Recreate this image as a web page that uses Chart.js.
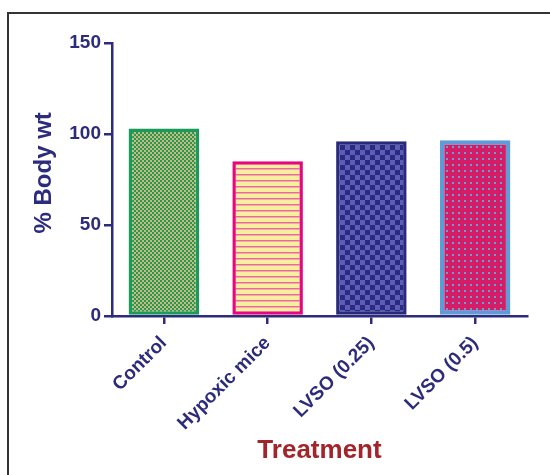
<!DOCTYPE html>
<html>
<head>
<meta charset="utf-8">
<script src="https://cdn.jsdelivr.net/npm/chart.js@4.4.0/dist/chart.umd.min.js"></script>
<style>
  body { margin: 0; background: #fff; }
  #frame { position: absolute; left: 7px; top: 12px; width: 560px; height: 480px;
           border-left: 2px solid #333; border-top: 2px solid #333; }
  #wrap { position: absolute; left: 0; top: 0; width: 550px; height: 475px; }
</style>
</head>
<body>
<div id="frame"></div>
<div id="wrap"><canvas id="myBarChart" width="550" height="475"></canvas></div>
<script>
// chart values
var categories = ['Control', 'Hypoxic mice', 'LVSO (0.25)', 'LVSO (0.5)'];
var bodyWt = [103, 85, 96, 96.5];
var yTicks = [0, 50, 100, 150];

var navy = '#2c2b7c';

// small tiles used as bar fills
function tile(w, h, draw) {
    var c = document.createElement('canvas');
    c.width = w; c.height = h;
    var g = c.getContext('2d');
    draw(g);
    return g.createPattern(c, 'repeat');
}

document.addEventListener("DOMContentLoaded", function () {
    var ctx = document.getElementById('myBarChart').getContext('2d');

    var checkGreen = tile(4, 4, function (g) {
        g.fillStyle = '#cdb976'; g.fillRect(0, 0, 4, 4);
        g.fillStyle = '#22995c'; g.fillRect(0, 0, 2, 2); g.fillRect(2, 2, 2, 2);
    });
    var stripes = tile(6, 6, function (g) {
        g.fillStyle = '#f7ef9f'; g.fillRect(0, 0, 6, 6);
        g.fillStyle = '#ea6aa0'; g.fillRect(0, 0, 6, 1.5);
    });
    var checkBlue = tile(10, 10, function (g) {
        g.fillStyle = '#2b2a82'; g.fillRect(0, 0, 10, 10);
        g.fillStyle = '#5d5db6'; g.fillRect(0, 0, 5, 5); g.fillRect(5, 5, 5, 5);
    });
    var dots = tile(6, 6, function (g) {
        g.fillStyle = '#d31d66'; g.fillRect(0, 0, 6, 6);
        g.fillStyle = '#6b9ed6'; g.fillRect(2, 2, 2, 2);
    });

    var data = {
        labels: categories,
        datasets: [{
            data: bodyWt,
            backgroundColor: [checkGreen, stripes, checkBlue, dots],
            borderColor: ['#1c9a5a', '#e6077f', '#2a2a7c', '#5f9bd6'],
            borderWidth: [3.5, 3.5, 3.5, 4.5],
            borderSkipped: false,
            barPercentage: 0.68,
            categoryPercentage: 1
        }]
    };

    var options = {
        responsive: false,
        maintainAspectRatio: false,
        animation: false,
        layout: { padding: { top: 43, right: 23, left: 0, bottom: 0 } },
        plugins: { legend: { display: false }, tooltip: { enabled: false } },
        scales: {
            x: {
                afterFit: function (s) { s.height = 159; },
                grid: { display: true, drawOnChartArea: false, offset: false,
                        color: navy, lineWidth: 2.5, tickLength: 8 },
                border: { color: navy, width: 2.5 },
                ticks: {
                    autoSkip: false, minRotation: 45, maxRotation: 45, padding: 8,
                    color: navy,
                    font: { family: 'Liberation Sans, Arial', size: 19, weight: 'bold' }
                },
                title: {
                    display: true, text: 'Treatment', color: '#a1252b',
                    padding: { bottom: 9 },
                    font: { family: 'Liberation Sans, Arial', size: 26, weight: 'bold' }
                }
            },
            y: {
                min: 0, max: 150,
                afterFit: function (s) { s.width = 112; },
                afterBuildTicks: function (s) { s.ticks = yTicks.map(function (v) { return { value: v }; }); },
                grid: { display: true, drawOnChartArea: false,
                        color: navy, lineWidth: 2.5, tickLength: 8 },
                border: { color: navy, width: 2.5 },
                ticks: {
                    padding: 3, color: navy,
                    font: { family: 'Liberation Sans, Arial', size: 19, weight: 'bold' }
                },
                title: {
                    // leading spaces nudge the rotated title upward like the original
                    display: true, text: '  % Body wt', color: navy,
                    padding: { top: 30 },
                    font: { family: 'Liberation Sans, Arial', size: 24, weight: 'bold' }
                }
            }
        }
    };

    new Chart(ctx, { type: 'bar', data: data, options: options });
});
</script>
</body>
</html>
